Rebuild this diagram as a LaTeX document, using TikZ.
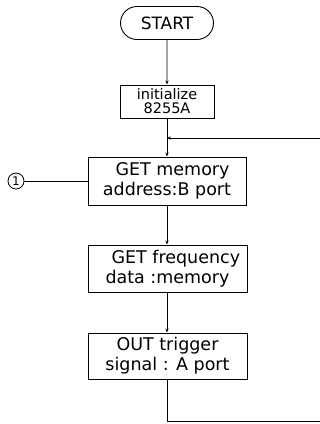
\documentclass[tikz,border=0pt]{standalone}
\usepackage{fontspec}
\setmainfont{DejaVu Sans}
\usetikzlibrary{arrows.meta,shapes.misc}
\begin{document}
\begin{tikzpicture}[x=1pt,y=-1pt,
  every node/.style={font=\fontsize{16}{19}\selectfont},
  proc/.style={draw,line width=0.9pt,rectangle,align=center,inner sep=0pt},
  term/.style={draw,line width=0.9pt,rounded rectangle,align=center,inner sep=0pt},
  flow/.style={line width=0.8pt,-{Stealth[length=4pt,width=3pt]}},
  plain/.style={line width=0.8pt}]
\useasboundingbox (0,0) rectangle (320,424);
\node[term,minimum width=93pt,minimum height=33pt,font=\fontsize{17}{19}\selectfont] (start) at (167,23) {START};
\node[proc,minimum width=94pt,minimum height=33pt,font=\fontsize{14.5}{14}\selectfont] (init) at (167,101.5) {initialize\\8255A};
\node[proc,minimum width=158pt,minimum height=48pt,font=\fontsize{17.5}{20}\selectfont] (getmem) at (167,181) {\ \ GET memory\\address:B port};
\node[proc,minimum width=159pt,minimum height=47pt,font=\fontsize{17.5}{20}\selectfont] (getfreq) at (167.5,268.5) {\ \ \ GET frequency\\data :memory};
\node[proc,minimum width=159pt,minimum height=46pt,font=\fontsize{17.5}{20}\selectfont] (out) at (167.5,356) {OUT trigger\\signal : A port};
\node[draw,circle,line width=0.8pt,minimum size=16pt,inner sep=0pt,font=\fontsize{12}{12}\selectfont] (c1) at (16,181) {1};
\coordinate (jn) at (167,138);
\coordinate (re) at (320,138);
\coordinate (bl) at (167,421);
\coordinate (br) at (320,421);
\draw[flow] (start) -- (init);
\draw[plain] (init.south) -- (jn);
\draw[flow] (jn) -- (getmem.north -| jn);
\draw[flow] (re) -- (jn);
\draw[plain] (c1) -- (getmem);
\draw[flow] (getmem.south -| jn) -- (getfreq.north -| jn);
\draw[flow] (getfreq.south -| jn) -- (out.north -| jn);
\draw[plain] (out.south -| jn) -- (bl) -- (br);
\end{tikzpicture}
\end{document}
